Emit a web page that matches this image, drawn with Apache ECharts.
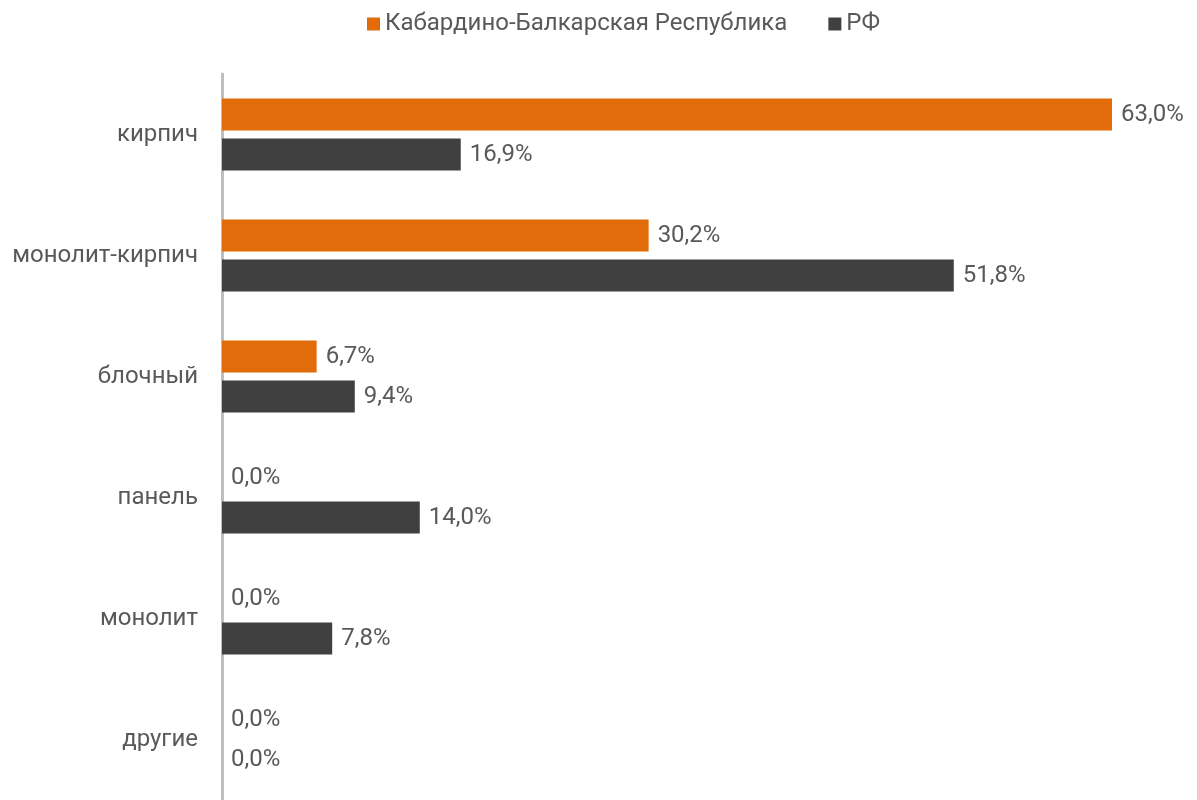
<!DOCTYPE html>
<html><head><meta charset="utf-8">
<script src="https://cdn.jsdelivr.net/npm/echarts@6/dist/echarts.min.js"></script>
<style>html,body{margin:0;padding:0;background:#fff}#c{width:1197px;height:800px}</style>
</head><body><div id="c"></div>
<script>
const categories = ['кирпич','монолит-кирпич','блочный','панель','монолит','другие'];
const kbrValues = [63.0, 30.2, 6.7, 0.0, 0.0, 0.0];
const rfValues = [16.9, 51.8, 9.4, 14.0, 7.8, 0.0];
const seriesNames = ['Кабардино-Балкарская Республика','РФ'];

const chart = echarts.init(document.getElementById('c'));
const fmt = p => p.value.toFixed(1).replace('.', ',') + '%';
const labelCfg = {show:true, position:'right', distance:9, formatter:fmt, color:'#595959', fontSize:24, fontFamily:'Roboto'};
chart.setOption({
  animation:false,
  textStyle:{fontFamily:'Roboto'},
  legend:{top:7, left:362, itemWidth:13, itemHeight:13, itemGap:41,
    icon:'rect', textStyle:{color:'#595959', fontSize:24, fontFamily:'Roboto'},
    data:seriesNames},
  grid:{left:222, top:74, width:890, height:731, containLabel:false},
  xAxis:{type:'value', min:0, max:63, show:false},
  yAxis:{type:'category', data:categories, inverse:true,
    axisLine:{show:true, lineStyle:{color:'#BFBFBF', width:3}},
    axisTick:{show:false},
    axisLabel:{color:'#595959', fontSize:24, fontFamily:'Roboto', margin:24}},
  series:[
    {name:seriesNames[0], type:'bar', data:kbrValues, barWidth:32, barGap:'25%',
     itemStyle:{color:'#E36C0A'}, label:labelCfg},
    {name:seriesNames[1], type:'bar', data:rfValues, barWidth:32,
     itemStyle:{color:'#404040'}, label:labelCfg}
  ]
});
</script></body></html>
